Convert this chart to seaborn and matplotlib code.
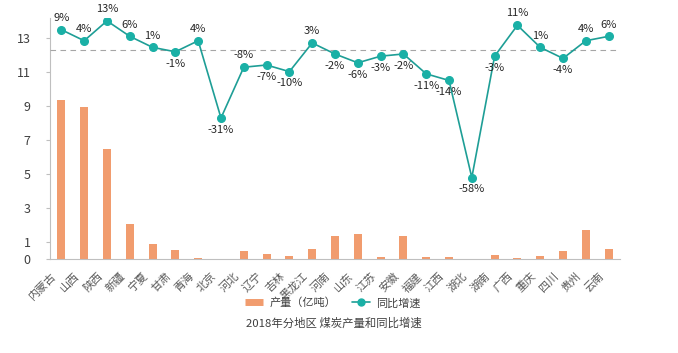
import numpy as np
import seaborn as sns
import matplotlib.pyplot as plt
import matplotlib.transforms as mtrans
from matplotlib.lines import Line2D

# ---- data ----
provinces = ['内蒙古', '山西', '陕西', '新疆', '宁夏', '甘肃', '青海', '北京', '河北',
             '辽宁', '吉林', '黑龙江', '河南', '山东', '江苏', '安徽', '福建', '江西',
             '湖北', '湖南', '广西', '重庆', '四川', '贵州', '云南']
output = [9.35, 8.94, 6.47, 2.06, 0.88, 0.53, 0.05, 0.0, 0.47,
          0.29, 0.18, 0.59, 1.35, 1.47, 0.13, 1.35, 0.12, 0.12,
          0.0, 0.24, 0.05, 0.18, 0.49, 1.70, 0.60]
growth = [9, 4, 13, 6, 1, -1, 4, -31, -8,
          -7, -10, 3, -2, -6, -3, -2, -11, -14,
          -58, -3, 11, 1, -4, 4, 6]
y_ticks = [0, 1, 3, 5, 7, 9, 11, 13]
labels_above_anyway = ['河北']

bar_color = '#F19C6E'
line_color = '#1E9E96'
marker_color = '#1AB0A6'

sns.set_style('white')
plt.rcParams['font.family'] = ['Noto Sans CJK SC', 'DejaVu Sans']

fig = plt.figure(figsize=(6.78, 3.53), dpi=100)
ax = fig.add_axes([0.0737, 0.2663, 0.8408, 0.6827])

x_pos = np.arange(len(provinces))
sns.barplot(x=provinces, y=output, ax=ax, color=bar_color, width=0.35,
            saturation=1, order=provinces, linewidth=0)
ax.set_xlim(-0.5, len(provinces) - 0.5)
ax.set_ylim(0, 14.2)
ax.set_yticks(y_ticks)
ax.set_yticklabels([str(t) for t in y_ticks], fontsize=9, color='#404040')
ax.tick_params(axis='y', length=3, color='#BFBFBF', pad=11)
ax.tick_params(axis='x', length=0, pad=2)
shift = mtrans.ScaledTranslation(-10 / 100, -9 / 100, fig.dpi_scale_trans)
for lab in ax.get_xticklabels():
    lab.set_rotation(45)
    lab.set_ha('right')
    lab.set_rotation_mode('anchor')
    lab.set_fontsize(8)
    lab.set_color('#595959')
    lab.set_transform(lab.get_transform() + shift)
for s in ['top', 'right']:
    ax.spines[s].set_visible(False)
for s in ['left', 'bottom']:
    ax.spines[s].set_color('#BFBFBF')
    ax.spines[s].set_linewidth(0.8)

# ---- growth line on a hidden second axis ----
ax2 = ax.twinx()
ax2.set_ylim(-94.9, 14.3)
ax2.axhline(0, ls=(0, (5, 4)), color='#A6A6A6', lw=0.8)
ax2.plot(x_pos, growth, color=line_color, lw=1.2, marker='o', markersize=5.5,
         markerfacecolor=marker_color, markeredgecolor=marker_color)
ax2.set_yticks([])
for s in ax2.spines.values():
    s.set_visible(False)

for i, (p, g) in enumerate(zip(provinces, growth)):
    up = g >= 0 or p in labels_above_anyway
    ax2.annotate(f'{g}%', (i, g), xytext=(0, 8.5 if up else -8.5),
                 textcoords='offset points', ha='center', va='center',
                 fontsize=8, color='#262626')

handles = [Line2D([0], [0], color=bar_color, lw=5, solid_capstyle='butt'),
           Line2D([0], [0], color=line_color, lw=1.2, marker='o', markersize=5,
                  markerfacecolor=marker_color, markeredgecolor=marker_color)]
fig.legend(handles, ['产量（亿吨）', '同比增速'], loc='center',
           bbox_to_anchor=(333 / 678, 1 - 303 / 353), ncol=2, frameon=False,
           fontsize=8, handlelength=1.6, columnspacing=1.4, handletextpad=0.6,
           labelcolor='#404040')
fig.text(334 / 678, 1 - 323 / 353, '2018年分地区 煤炭产量和同比增速', ha='center',
         va='center', fontsize=8.2, color='#404040')

plt.savefig('out.png', dpi=100)
